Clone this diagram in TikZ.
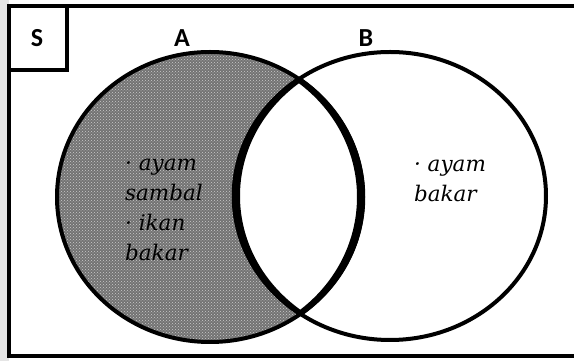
\documentclass[tikz,border=0pt]{standalone}
\usepackage{amsmath,amssymb}
\usepackage{fontspec}
\newfontfamily\labelfont{Carlito}
\newfontfamily\memberfont{DejaVu Serif}
\usepackage{tikz}
\usetikzlibrary{patterns,positioning}

\tikzset{
  setline/.style={line width=4pt},
  lensline/.style={line width=4.5pt},
  setlabel/.style={font=\labelfont\bfseries\fontsize{26}{30}\selectfont},
  member/.style={font=\memberfont\itshape\fontsize{21.5}{30}\selectfont, align=left, inner sep=0pt}
}
% the two sets
\def\setA{(cA) ellipse [x radius=153, y radius=145]}
\def\setB{(cB) ellipse [x radius=156, y radius=144]}

\begin{document}
\begin{tikzpicture}[x=1pt,y=1pt]
\useasboundingbox (0,0) rectangle (574,361);
\clip (0,0) rectangle (574,361);
\fill[white] (0,0) rectangle (574,361);
\fill[black!10] (0,0) rectangle (9,361);
\coordinate (cA) at (210,164);
\coordinate (cB) at (390,165);
\coordinate (cBs) at (396,165);
\coordinate (cAs) at (204,164);
% A minus B shaded
\fill[black!55] \setA;
\fill[pattern=crosshatch dots, pattern color=white!80!black] \setA;
\fill[white] \setB;
\draw[setline] \setA;
\draw[setline] \setB;
% lens, thicker in the middle
\begin{scope}
  \clip \setA;
  \fill[even odd rule] \setB (cBs) ellipse [x radius=156, y radius=144];
  \draw[lensline] \setB;
\end{scope}
\begin{scope}
  \clip \setB;
  \fill[even odd rule] \setA (cAs) ellipse [x radius=153, y radius=145];
  \draw[lensline] \setA;
\end{scope}
% universe
\draw[setline] (9,5) rectangle (590,355);
\draw[setline] (9,355) rectangle (67,291);
\node[setlabel] (S) at (37,323) {S};
\node[setlabel] (A) at (182,323) {A};
\node[setlabel] (B) at (366,323) {B};
% members
\node[member] (memA) at (164,151) {· ayam\\sambal\\· ikan\\bakar};
\node[member] (memB) at (450,180) {· ayam\\bakar};
\end{tikzpicture}
\end{document}
